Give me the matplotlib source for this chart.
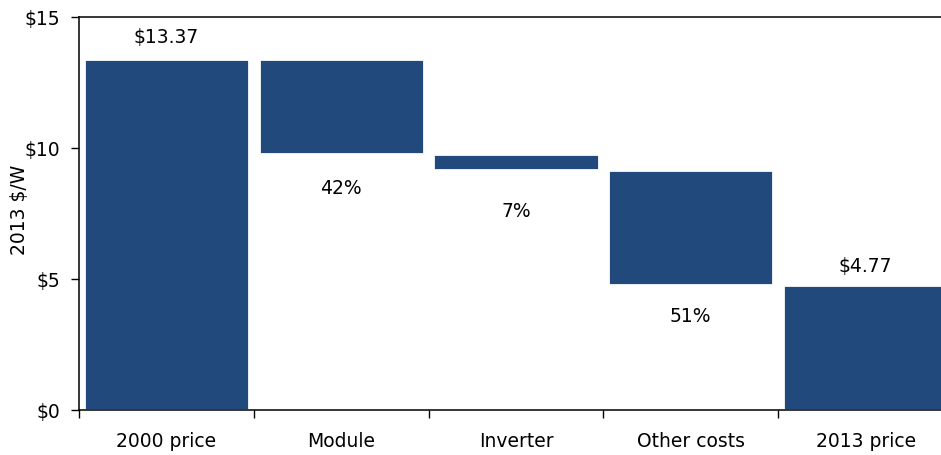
import numpy as np
import matplotlib
matplotlib.use('Agg')
import matplotlib.pyplot as plt

categories = ['2000 price', 'Module', 'Inverter', 'Other costs', '2013 price']
price_2000 = 13.37
price_2013 = 4.77
shares = [0.42, 0.07, 0.51]  # share of the total price decline

plt.rcParams['font.family'] = ['DejaVu Sans']
bar_color = '#22497c'
fs = 13.5

# waterfall: each cost component drops from the running total
drops = [s * (price_2000 - price_2013) for s in shares]
tops = [price_2000]
bottoms = [0.0]
level = price_2000
for d in drops:
    tops.append(level)
    bottoms.append(level - d)
    level -= d
tops.append(price_2013)
bottoms.append(0.0)
tops = np.array(tops)
bottoms = np.array(bottoms)

labels = ['$%.2f' % price_2000] + ['%d%%' % round(s * 100) for s in shares] + ['$%.2f' % price_2013]
label_offsets = [23, -33, -41, -31, 19]  # pixels from the bar edge

fig = plt.figure(figsize=(9.41, 4.56), dpi=100)
ax = fig.add_axes([79 / 941, 45 / 456, 874 / 941, 393.3 / 456])

x = np.arange(len(categories))
ax.bar(x, tops - bottoms, bottom=bottoms, width=0.945, color=bar_color,
       edgecolor='white', linewidth=2.0)

for i, (lab, off) in enumerate(zip(labels, label_offsets)):
    y = tops[i] if off > 0 else bottoms[i]
    ax.annotate(lab, (x[i], y), xytext=(0, off), textcoords='offset pixels',
                ha='center', va='center', fontsize=fs)

ax.set_xlim(-0.5, len(categories) - 0.5)
ax.set_ylim(0, 15)
ax.set_yticks([0, 5, 10, 15])
ax.set_yticklabels(['$0', '$5', '$10', '$15'])
ax.set_xticks(x)
ax.set_xticklabels(categories)
ax.set_xticks(np.arange(len(categories) + 1) - 0.5, minor=True)

ax.tick_params(axis='y', direction='out', length=5.5, width=1, pad=8, labelsize=fs)
ax.tick_params(axis='x', which='major', length=0, pad=15, labelsize=fs)
ax.tick_params(axis='x', which='minor', direction='out', length=6, width=1)

for side in ['left', 'bottom', 'top']:
    ax.spines[side].set_linewidth(1.1)
ax.spines['right'].set_visible(False)

fig.text(20 / 941, 1 - 210 / 456, '2013 $/W', rotation=90, ha='center', va='center', fontsize=fs)

fig.savefig('out.png', dpi=100)
